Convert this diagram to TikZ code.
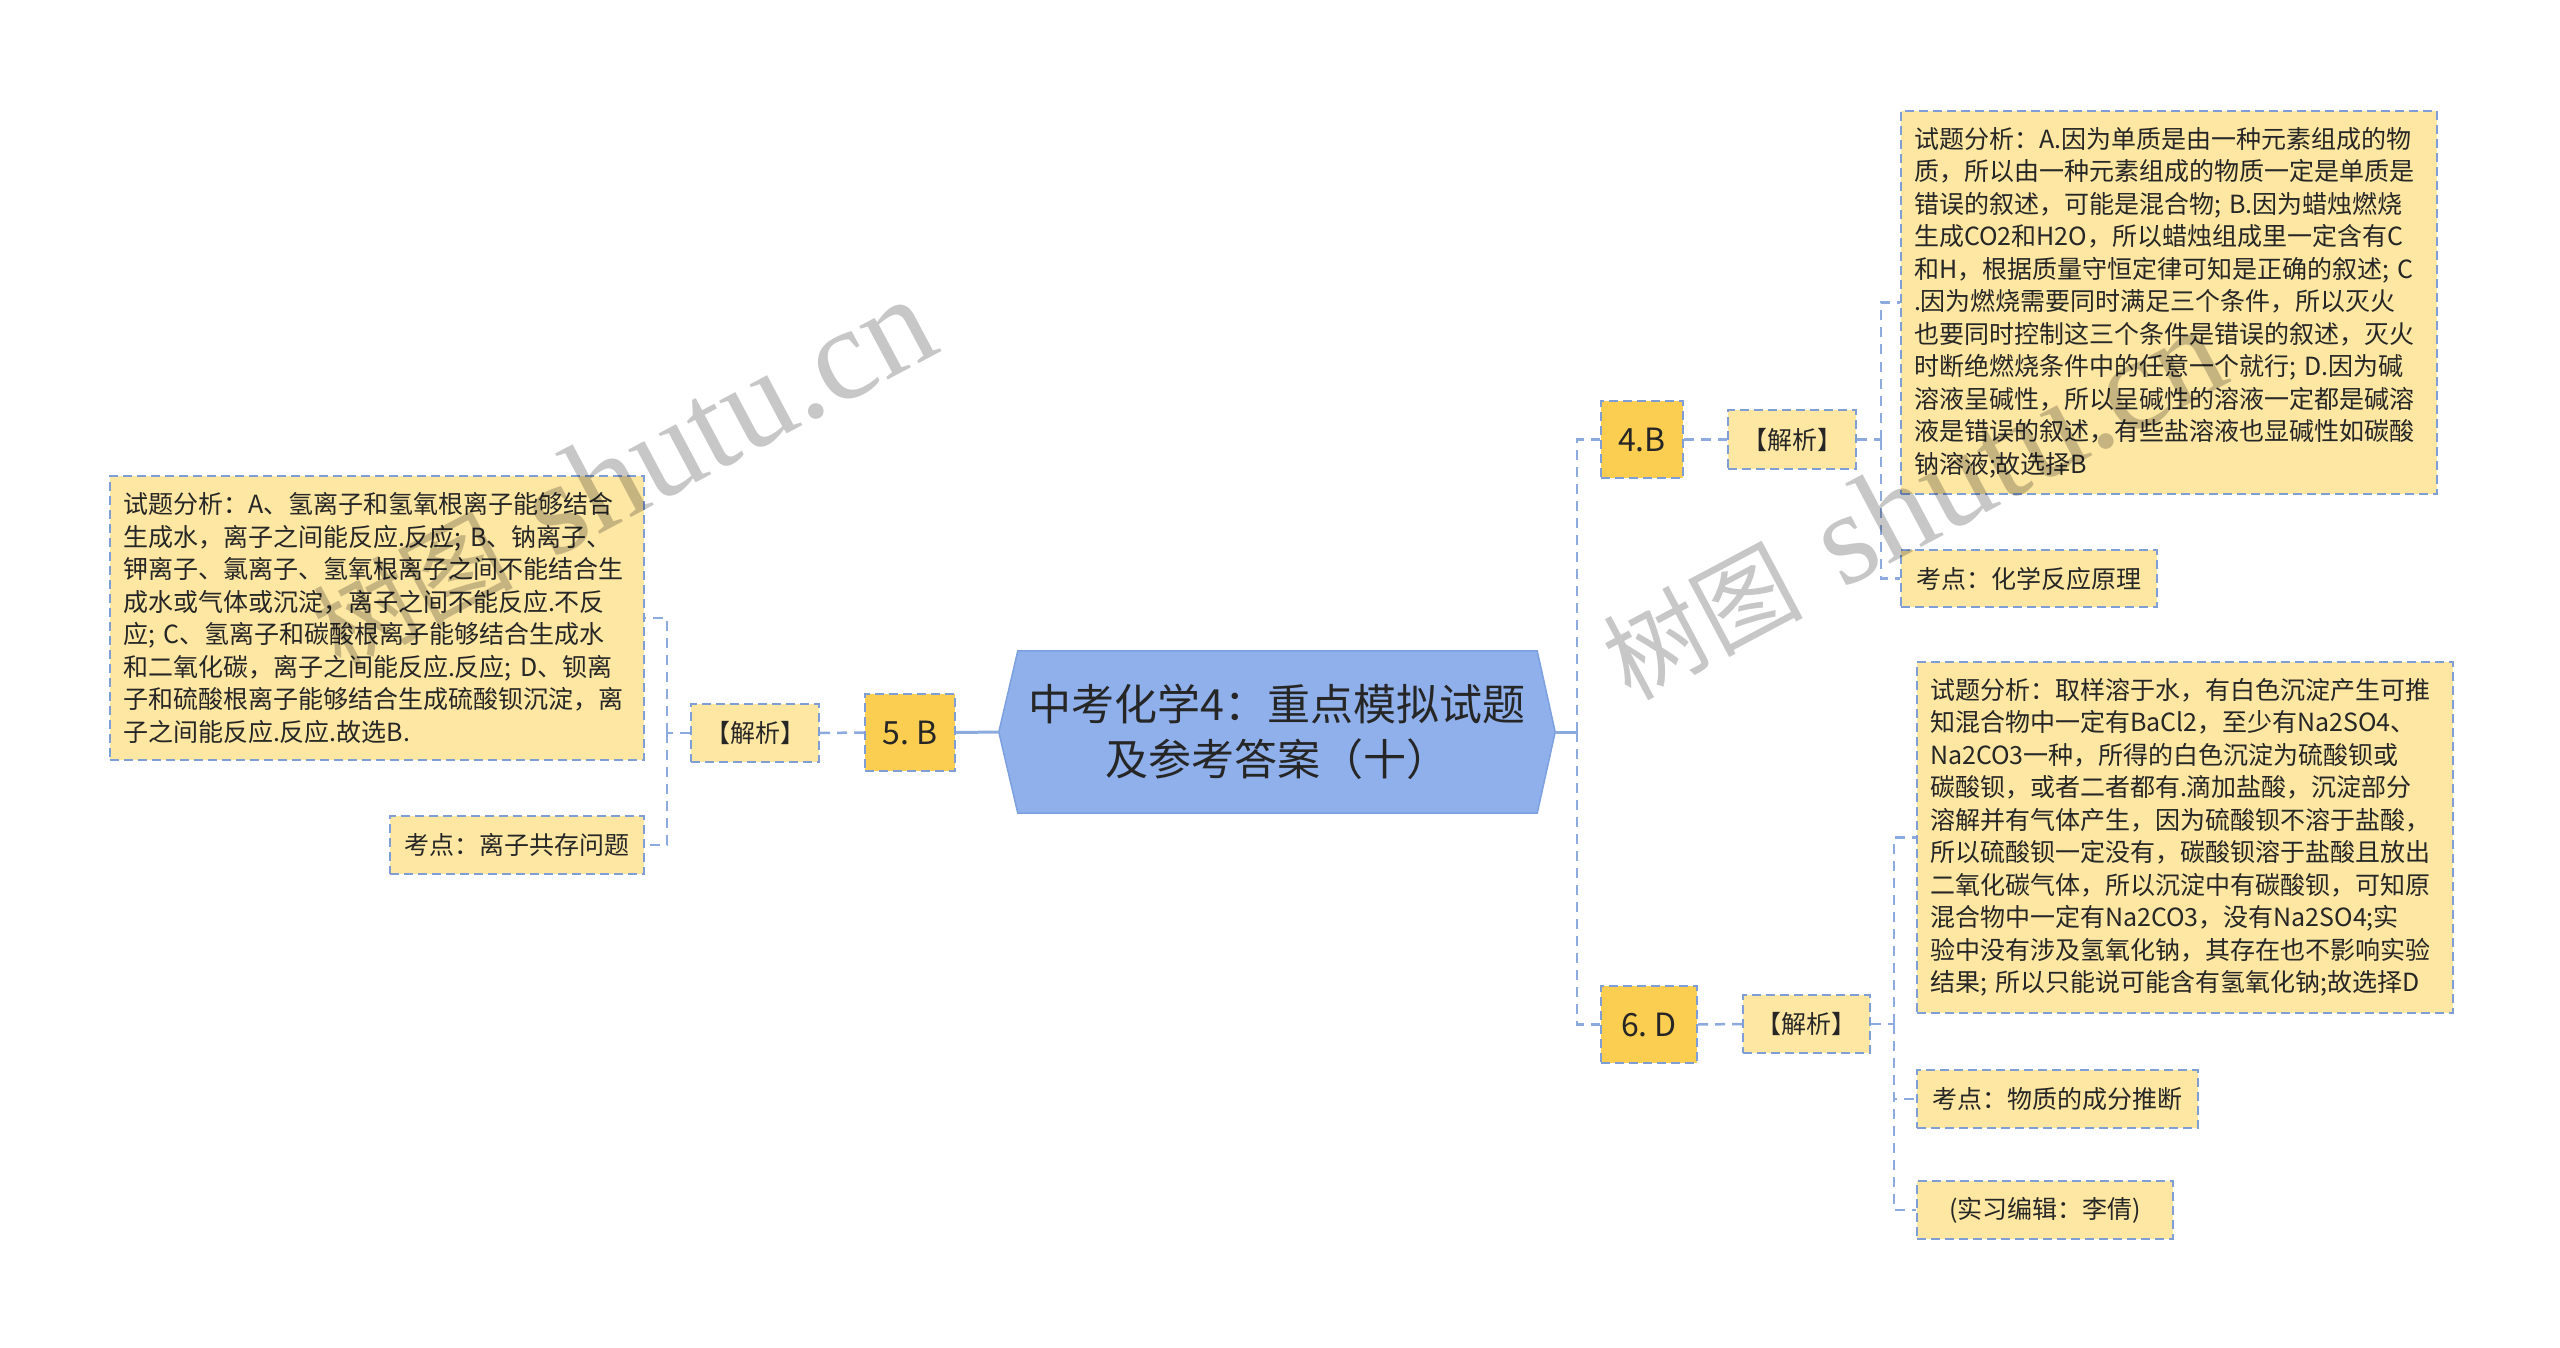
\documentclass[tikz,border=0pt]{standalone}
\usepackage{fontspec}
\setmainfont{Noto Sans CJK SC}
\newfontfamily\wmlatin{Liberation Serif}
\usetikzlibrary{backgrounds}
\definecolor{boxfill}{RGB}{253,231,163}
\definecolor{ansfill}{RGB}{251,205,80}
\definecolor{bordc}{RGB}{128,158,214}
\definecolor{linec}{RGB}{140,170,222}
\definecolor{titlefill}{RGB}{143,176,234}
\definecolor{titleline}{RGB}{125,160,225}
\definecolor{txt}{RGB}{38,38,38}
\begin{document}
\begin{tikzpicture}[x=1pt,y=-1pt,
  box/.style={draw=bordc, line width=2pt, dash pattern=on 9pt off 5pt, fill=boxfill, text=txt,
    inner xsep=13pt, inner ysep=0pt, anchor=north west, font=\fontsize{25}{32.5}\selectfont},
  ansbox/.style={box, fill=ansfill, font=\fontsize{32}{38}\selectfont},
  conn/.style={draw=linec, line width=2.5pt, dash pattern=on 10pt off 7pt},
  trunk/.style={draw=linec, line width=3pt},
  wm/.style={text=black, text opacity=0.22, anchor=base west, rotate=28, inner sep=0pt}]
\useasboundingbox (0,0) rectangle (2560,1348);

% central topic
\node[font=\fontsize{43}{55}\selectfont, text=txt, align=center, minimum width=556, minimum height=162, inner sep=0pt]
  (title) at (1277,732) {中考化学4：重点模拟试题\\及参考答案（十）};

% left branch
\node[ansbox, minimum width=90, minimum height=77] (b5) at (864,693) {5.~B};
\node[box, minimum width=128, minimum height=58] (j5) at (690,703) {【解析】};
\node[box, text width=508, minimum height=284, align=left] (a5) at (109,475)
 {试题分析：A、氢离子和氢氧根离子能够结合\\
  生成水，离子之间能反应.反应;~B、钠离子、\\
  钾离子、氯离子、氢氧根离子之间不能结合生\\
  成水或气体或沉淀，离子之间不能反应.不反\\
  应;~C、氢离子和碳酸根离子能够结合生成水\\
  和二氧化碳，离子之间能反应.反应;~D、钡离\\
  子和硫酸根离子能够结合生成硫酸钡沉淀，离\\
  子之间能反应.反应.故选B.};
\node[box, minimum width=254, minimum height=58] (p5) at (389,815) {考点：离子共存问题};

% right branch 4.B
\node[ansbox, minimum width=82, minimum height=77] (b4) at (1600,400) {4.B};
\node[box, minimum width=128, minimum height=59] (j4) at (1727,409) {【解析】};
\node[box, text width=510, minimum height=383, align=left] (a4) at (1900,110)
 {试题分析：A.因为单质是由一种元素组成的物\\
  质，所以由一种元素组成的物质一定是单质是\\
  错误的叙述，可能是混合物;~B.因为蜡烛燃烧\\
  生成CO2和H2O，所以蜡烛组成里一定含有C\\
  和H，根据质量守恒定律可知是正确的叙述;~C\\
  .因为燃烧需要同时满足三个条件，所以灭火\\
  也要同时控制这三个条件是错误的叙述，灭火\\
  时断绝燃烧条件中的任意一个就行;~D.因为碱\\
  溶液呈碱性，所以呈碱性的溶液一定都是碱溶\\
  液是错误的叙述，有些盐溶液也显碱性如碳酸\\
  钠溶液;故选择B};
\node[box, minimum width=256, minimum height=57] (p4) at (1900,549) {考点：化学反应原理};

% right branch 6.D
\node[ansbox, minimum width=96, minimum height=77] (b6) at (1600,985) {6.~D};
\node[box, minimum width=127, minimum height=58] (j6) at (1742,994) {【解析】};
\node[box, text width=510, minimum height=351, align=left] (a6) at (1916,661)
 {试题分析：取样溶于水，有白色沉淀产生可推\\
  知混合物中一定有BaCl2，至少有Na2SO4、\\
  Na2CO3一种，所得的白色沉淀为硫酸钡或\\
  碳酸钡，或者二者都有.滴加盐酸，沉淀部分\\
  溶解并有气体产生，因为硫酸钡不溶于盐酸，\\
  所以硫酸钡一定没有，碳酸钡溶于盐酸且放出\\
  二氧化碳气体，所以沉淀中有碳酸钡，可知原\\
  混合物中一定有Na2CO3，没有Na2SO4;实\\
  验中没有涉及氢氧化钠，其存在也不影响实验\\
  结果;~所以只能说可能含有氢氧化钠;故选择D};
\node[box, minimum width=281, minimum height=58] (p6) at (1916,1069) {考点：物质的成分推断};
\node[box, minimum width=256, minimum height=58] (e6) at (1916,1180) {(实习编辑：李倩)};

\begin{scope}[on background layer]
  \fill[white] (0,0) rectangle (2560,1348);
  \filldraw[fill=titlefill, draw=titleline, line width=1.5pt]
    (title.west) -- ([xshift=19pt]title.north west) -- ([xshift=-18pt]title.north east)
    -- (title.east) -- ([xshift=-18pt]title.south east) -- ([xshift=19pt]title.south west) -- cycle;
  % left connectors
  \draw[trunk] (title.west) -- (b5.east);
  \draw[conn] (b5.west) -- (j5.east);
  \draw[conn] (j5.west) -- ++(-23,0) coordinate (v5);
  \draw[conn] (v5) |- (a5.east);
  \draw[conn] (v5) |- (p5.east);
  % right connectors
  \draw[trunk] (title.east) -- ++(22,0) coordinate (rj);
  \draw[conn] (rj) |- (b4.west);
  \draw[conn] (rj) |- (b6.west);
  \draw[conn] (b4.east) -- (j4.west);
  \draw[conn] (j4.east) -- ++(24,0) coordinate (v4);
  \draw[conn] (v4) |- (a4.west);
  \draw[conn] (v4) |- (p4.west);
  \draw[conn] (b6.east) -- (j6.west);
  \draw[conn] (j6.east) -- ++(23,0) coordinate (v6);
  \draw[conn] (v6) |- (a6.west);
  \draw[conn] (v6) |- (p6.west);
  \draw[conn] (v6) |- (e6.west);
\end{scope}

% watermarks
\node[wm] (wmL) at (340,672) {\fontsize{100}{100}\selectfont 树图\hspace{40pt}{\wmlatin\fontsize{132}{132}\selectfont shutu.cn}};
\node[wm] (wmR) at (1630,702) {\fontsize{100}{100}\selectfont 树图\hspace{40pt}{\wmlatin\fontsize{132}{132}\selectfont shutu.cn}};
\end{tikzpicture}
\end{document}
